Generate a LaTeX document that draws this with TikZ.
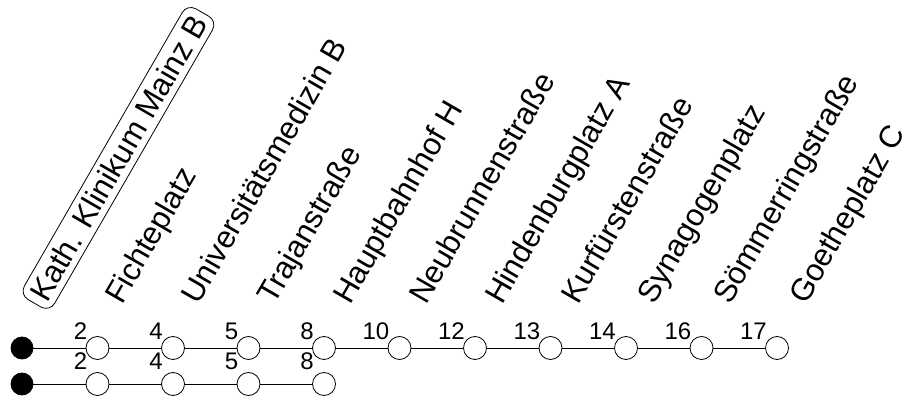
\documentclass[tikz,border=0pt]{standalone}
\usepackage{fontspec}
\setmainfont{Liberation Sans}
\begin{document}
\begin{tikzpicture}[x=1pt,y=1pt,
  stopc/.style={circle,draw,fill=white,minimum size=23pt,inner sep=0pt,line width=0.8pt},
  termc/.style={circle,draw,fill=black,minimum size=22pt,inner sep=0pt,line width=0.8pt},
  num/.style={anchor=base east,font=\fontsize{24}{24}\selectfont,inner sep=0pt},
  stn/.style={anchor=base west,rotate=60,font=\fontsize{31.2}{31.2}\selectfont,inner sep=0pt},
  stnbox/.style={anchor=base west,rotate=60,font=\fontsize{31.2}{31.2}\selectfont,draw,rounded corners=10pt,inner sep=6pt,line width=0.8pt},
  conn/.style={line width=0.8pt}]
\useasboundingbox (0,0) rectangle (904,401);
% top row
\node[termc] (t0) at (22,53) {};
\foreach \k/\n in {1/2,2/4,3/5,4/8,5/10,6/12,7/13,8/14,9/16,10/17}{
  \node[stopc] (t\k) at ({22+75.5*\k},53) {};
  \node[num] (nt\k) at ({22+75.5*\k-10},61) {\n};
}
\foreach \a/\b in {0/1,1/2,2/3,3/4,4/5,5/6,6/7,7/8,8/9,9/10}{
  \draw[conn] (t\a) -- (t\b);
}
% bottom row
\node[termc] (b0) at (22,17) {};
\foreach \k/\n in {1/2,2/4,3/5,4/8}{
  \node[stopc] (b\k) at ({22+75.5*\k},17) {};
  \node[num] (nb\k) at ({22+75.5*\k-10},31) {\n};
}
\foreach \a/\b in {0/1,1/2,2/3,3/4}{
  \draw[conn] (b\a) -- (b\b);
}
% station labels
\node[stnbox] (s0) at ({47-3},{97-5.2}) {Kath. Klinikum Mainz B};
\foreach \k/\s in {1/Fichteplatz,2/Universitätsmedizin B,3/Trajanstraße,4/Hauptbahnhof H,5/Neubrunnenstraße,6/Hindenburgplatz A,7/Kurfürstenstraße,8/Synagogenplatz,9/Sömmerringstraße,10/Goetheplatz C}{
  \node[stn] (s\k) at ({46+76*\k},95) {\s};
}
\end{tikzpicture}
\end{document}
